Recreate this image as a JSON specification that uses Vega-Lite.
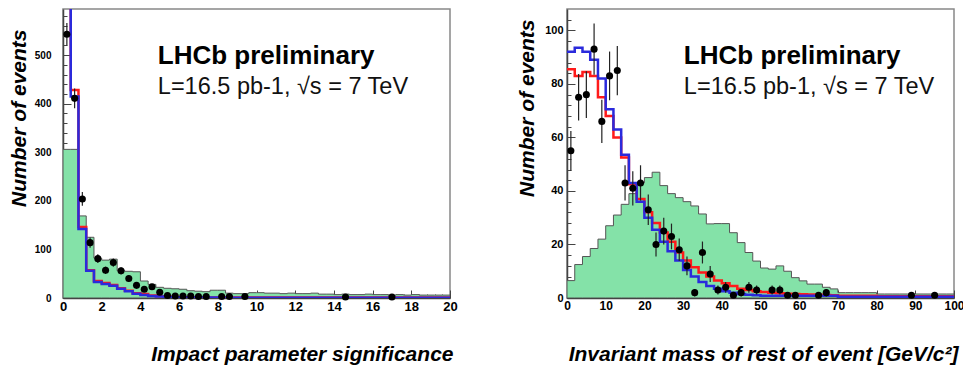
{
  "$schema": "https://vega.github.io/schema/vega-lite/v6.json",
  "padding": {"left": 7, "top": 8, "right": 5, "bottom": 5},
  "background": "white",
  "spacing": 117,
  "bounds": "flush",
  "config": {
    "view": {"stroke": "#888", "strokeWidth": 1.5},
    "font": "Liberation Sans",
    "axis": {
      "grid": false,
      "labelFont": "Liberation Sans",
      "labelFontWeight": "bold",
      "labelColor": "#000",
      "domainColor": "#444",
      "domainWidth": 1.5,
      "tickColor": "#444",
      "tickWidth": 1,
      "titleFont": "Liberation Sans",
      "titleFontWeight": "bold",
      "titleFontStyle": "italic",
      "titleFontSize": 21,
      "titleColor": "#000",
      "labelOverlap": false,
      "labelFlush": false
    }
  },
  "datasets": {
    "ip_hist": [
      {"lo": 0.0, "g": 306, "r": 800, "b": 800},
      {"lo": 0.4, "g": 306, "r": 428, "b": 415},
      {"lo": 0.8, "g": 169, "r": 146, "b": 142},
      {"lo": 1.2, "g": 125, "r": 57, "b": 56},
      {"lo": 1.6, "g": 82, "r": 35, "b": 33},
      {"lo": 2.0, "g": 78, "r": 31, "b": 29},
      {"lo": 2.4, "g": 80, "r": 27, "b": 25},
      {"lo": 2.8, "g": 56, "r": 20, "b": 19},
      {"lo": 3.2, "g": 55, "r": 15, "b": 14},
      {"lo": 3.6, "g": 54, "r": 10, "b": 9},
      {"lo": 4.0, "g": 35, "r": 8, "b": 6},
      {"lo": 4.4, "g": 28, "r": 5, "b": 4},
      {"lo": 4.8, "g": 22, "r": 3.5, "b": 3},
      {"lo": 5.2, "g": 20, "r": 2.5, "b": 2},
      {"lo": 5.6, "g": 19, "r": 2, "b": 1.5},
      {"lo": 6.0, "g": 18, "r": 1.5, "b": 1},
      {"lo": 6.4, "g": 15, "r": 1.2, "b": 1},
      {"lo": 6.8, "g": 14, "r": 1, "b": 0.8},
      {"lo": 7.2, "g": 13, "r": 1, "b": 0.8},
      {"lo": 7.6, "g": 16, "r": 1, "b": 0.8},
      {"lo": 8.0, "g": 16, "r": 0.8, "b": 0.7},
      {"lo": 8.4, "g": 10, "r": 0.8, "b": 0.7},
      {"lo": 8.8, "g": 9, "r": 0.8, "b": 0.7},
      {"lo": 9.2, "g": 9, "r": 0.8, "b": 0.7},
      {"lo": 9.6, "g": 11, "r": 0.8, "b": 0.7},
      {"lo": 10.0, "g": 11, "r": 0.8, "b": 0.7},
      {"lo": 10.4, "g": 10, "r": 0.8, "b": 0.7},
      {"lo": 10.8, "g": 10, "r": 0.8, "b": 0.7},
      {"lo": 11.2, "g": 9, "r": 0.8, "b": 0.7},
      {"lo": 11.6, "g": 10, "r": 0.8, "b": 0.7},
      {"lo": 12.0, "g": 9, "r": 0.8, "b": 0.7},
      {"lo": 12.4, "g": 9, "r": 0.8, "b": 0.7},
      {"lo": 12.8, "g": 10, "r": 0.8, "b": 0.7},
      {"lo": 13.2, "g": 8, "r": 0.8, "b": 0.7},
      {"lo": 13.6, "g": 8, "r": 0.8, "b": 0.7},
      {"lo": 14.0, "g": 7, "r": 0.8, "b": 0.7},
      {"lo": 14.4, "g": 8, "r": 0.8, "b": 0.7},
      {"lo": 14.8, "g": 7, "r": 0.8, "b": 0.7},
      {"lo": 15.2, "g": 7, "r": 0.8, "b": 0.7},
      {"lo": 15.6, "g": 8, "r": 0.8, "b": 0.7},
      {"lo": 16.0, "g": 7, "r": 0.8, "b": 0.7},
      {"lo": 16.4, "g": 7, "r": 0.8, "b": 0.7},
      {"lo": 16.8, "g": 6, "r": 0.8, "b": 0.7},
      {"lo": 17.2, "g": 7, "r": 0.8, "b": 0.7},
      {"lo": 17.6, "g": 6, "r": 0.8, "b": 0.7},
      {"lo": 18.0, "g": 7, "r": 0.8, "b": 0.7},
      {"lo": 18.4, "g": 6, "r": 0.8, "b": 0.7},
      {"lo": 18.8, "g": 6, "r": 0.8, "b": 0.7},
      {"lo": 19.2, "g": 6, "r": 0.8, "b": 0.7},
      {"lo": 19.6, "g": 6, "r": 0.8, "b": 0.7},
      {"lo": 20.0, "g": 6, "r": 0.8, "b": 0.7}
    ],
    "ip_pts": [
      {"x": 0.2, "n": 543, "lo": 519.7, "hi": 566.3},
      {"x": 0.6, "n": 411, "lo": 390.7, "hi": 431.3},
      {"x": 1.0, "n": 204, "lo": 189.7, "hi": 218.3},
      {"x": 1.4, "n": 114, "lo": 103.3, "hi": 124.7},
      {"x": 1.8, "n": 81, "lo": 72, "hi": 90},
      {"x": 2.2, "n": 57, "lo": 49.5, "hi": 64.5},
      {"x": 2.6, "n": 73, "lo": 64.5, "hi": 81.5},
      {"x": 3.0, "n": 56, "lo": 48.5, "hi": 63.5},
      {"x": 3.4, "n": 40, "lo": 33.7, "hi": 46.3},
      {"x": 3.8, "n": 26, "lo": 20.9, "hi": 31.1},
      {"x": 4.2, "n": 18, "lo": 13.8, "hi": 22.2},
      {"x": 4.6, "n": 23, "lo": 18.2, "hi": 27.8},
      {"x": 5.0, "n": 12, "lo": 8.5, "hi": 15.5},
      {"x": 5.4, "n": 5, "lo": 2.8, "hi": 7.2},
      {"x": 5.8, "n": 4, "lo": 2, "hi": 6},
      {"x": 6.2, "n": 4, "lo": 2, "hi": 6},
      {"x": 6.6, "n": 4, "lo": 2, "hi": 6},
      {"x": 7.0, "n": 3, "lo": 1.3, "hi": 4.7},
      {"x": 7.4, "n": 3, "lo": 1.3, "hi": 4.7},
      {"x": 8.2, "n": 3, "lo": 1.3, "hi": 4.7},
      {"x": 8.6, "n": 3, "lo": 1.3, "hi": 4.7},
      {"x": 9.4, "n": 3, "lo": 1.3, "hi": 4.7},
      {"x": 14.6, "n": 2, "lo": 0.6, "hi": 3.4},
      {"x": 17.0, "n": 2, "lo": 0.6, "hi": 3.4}
    ],
    "m_hist": [
      {"lo": 0, "g": 6.5, "r": 85.5, "b": 92},
      {"lo": 2, "g": 12.5, "r": 83, "b": 93.5},
      {"lo": 4, "g": 15.5, "r": 84.5, "b": 92},
      {"lo": 6, "g": 18.5, "r": 83, "b": 89},
      {"lo": 8, "g": 22, "r": 75, "b": 82},
      {"lo": 10, "g": 27, "r": 68, "b": 70.5},
      {"lo": 12, "g": 31, "r": 60, "b": 63},
      {"lo": 14, "g": 35, "r": 52.5, "b": 53.5},
      {"lo": 16, "g": 39, "r": 42.5, "b": 43},
      {"lo": 18, "g": 43, "r": 37, "b": 36},
      {"lo": 20, "g": 45, "r": 32, "b": 30},
      {"lo": 22, "g": 47, "r": 28, "b": 25.5},
      {"lo": 24, "g": 42, "r": 24.5, "b": 21},
      {"lo": 26, "g": 39, "r": 21, "b": 17.5},
      {"lo": 28, "g": 37.5, "r": 17, "b": 14},
      {"lo": 30, "g": 36, "r": 14, "b": 10.5},
      {"lo": 32, "g": 34.4, "r": 11.5, "b": 8},
      {"lo": 34, "g": 31.4, "r": 9.5, "b": 6},
      {"lo": 36, "g": 27.7, "r": 8, "b": 4.5},
      {"lo": 38, "g": 27.8, "r": 6.5, "b": 3.5},
      {"lo": 40, "g": 27.8, "r": 5.5, "b": 2.5},
      {"lo": 42, "g": 24.4, "r": 4.5, "b": 2},
      {"lo": 44, "g": 20.7, "r": 3.5, "b": 1.5},
      {"lo": 46, "g": 17, "r": 3, "b": 1.2},
      {"lo": 48, "g": 13.8, "r": 2.5, "b": 1},
      {"lo": 50, "g": 11.2, "r": 2.2, "b": 0.8},
      {"lo": 52, "g": 10.8, "r": 2, "b": 0.8},
      {"lo": 54, "g": 12, "r": 1.8, "b": 0.8},
      {"lo": 56, "g": 10, "r": 1.6, "b": 0.8},
      {"lo": 58, "g": 7.6, "r": 1.5, "b": 0.8},
      {"lo": 60, "g": 6.4, "r": 1.4, "b": 0.8},
      {"lo": 62, "g": 5.2, "r": 1.3, "b": 0.8},
      {"lo": 64, "g": 5.2, "r": 1.2, "b": 0.8},
      {"lo": 66, "g": 4, "r": 1.1, "b": 0.8},
      {"lo": 68, "g": 3.4, "r": 1, "b": 0.8},
      {"lo": 70, "g": 2, "r": 0.8, "b": 0.5},
      {"lo": 72, "g": 2, "r": 0.8, "b": 0.5},
      {"lo": 74, "g": 2, "r": 0.8, "b": 0.5},
      {"lo": 76, "g": 2, "r": 0.8, "b": 0.5},
      {"lo": 78, "g": 2, "r": 0.8, "b": 0.5},
      {"lo": 80, "g": 1.5, "r": 0.7, "b": 0.5},
      {"lo": 82, "g": 1.5, "r": 0.7, "b": 0.5},
      {"lo": 84, "g": 1.5, "r": 0.7, "b": 0.5},
      {"lo": 86, "g": 1.5, "r": 0.7, "b": 0.5},
      {"lo": 88, "g": 1.5, "r": 0.7, "b": 0.5},
      {"lo": 90, "g": 1.5, "r": 0.7, "b": 0.5},
      {"lo": 92, "g": 1.5, "r": 0.7, "b": 0.5},
      {"lo": 94, "g": 1.5, "r": 0.7, "b": 0.5},
      {"lo": 96, "g": 1.5, "r": 0.7, "b": 0.5},
      {"lo": 98, "g": 1.5, "r": 0.7, "b": 0.5},
      {"lo": 100, "g": 1.5, "r": 0.7, "b": 0.5}
    ],
    "m_pts": [
      {"x": 1, "n": 55, "lo": 47.6, "hi": 62.4},
      {"x": 3, "n": 75, "lo": 66.3, "hi": 83.7},
      {"x": 5, "n": 76, "lo": 67.3, "hi": 84.7},
      {"x": 7, "n": 93, "lo": 83.4, "hi": 102.6},
      {"x": 9, "n": 66, "lo": 57.9, "hi": 74.1},
      {"x": 11, "n": 83, "lo": 73.9, "hi": 92.1},
      {"x": 13, "n": 85, "lo": 75.8, "hi": 94.2},
      {"x": 15, "n": 43, "lo": 36.4, "hi": 49.6},
      {"x": 17, "n": 41, "lo": 34.6, "hi": 47.4},
      {"x": 19, "n": 43, "lo": 36.4, "hi": 49.6},
      {"x": 21, "n": 33, "lo": 27.3, "hi": 38.7},
      {"x": 23, "n": 20, "lo": 15.5, "hi": 24.5},
      {"x": 25, "n": 25, "lo": 20, "hi": 30},
      {"x": 27, "n": 23, "lo": 18.2, "hi": 27.8},
      {"x": 29, "n": 18, "lo": 13.8, "hi": 22.2},
      {"x": 31, "n": 12, "lo": 8.5, "hi": 15.5},
      {"x": 33, "n": 2, "lo": 0.6, "hi": 3.4},
      {"x": 35, "n": 17, "lo": 12.9, "hi": 21.1},
      {"x": 37, "n": 9, "lo": 6, "hi": 12},
      {"x": 39, "n": 3, "lo": 1.3, "hi": 4.7},
      {"x": 41, "n": 4, "lo": 2, "hi": 6},
      {"x": 43, "n": 1, "lo": 0, "hi": 2},
      {"x": 45, "n": 2, "lo": 0.6, "hi": 3.4},
      {"x": 47, "n": 4, "lo": 2, "hi": 6},
      {"x": 49, "n": 3, "lo": 1.3, "hi": 4.7},
      {"x": 53, "n": 3, "lo": 1.3, "hi": 4.7},
      {"x": 55, "n": 3, "lo": 1.3, "hi": 4.7},
      {"x": 57, "n": 1, "lo": 0, "hi": 2},
      {"x": 59, "n": 1, "lo": 0, "hi": 2},
      {"x": 65, "n": 1, "lo": 0, "hi": 2},
      {"x": 67, "n": 2, "lo": 0.6, "hi": 3.4},
      {"x": 89, "n": 1, "lo": 0, "hi": 2},
      {"x": 95, "n": 1, "lo": 0, "hi": 2}
    ],
    "one": [{}]
  },
  "hconcat": [
    {
      "width": 387,
      "height": 289,
      "resolve": {"axis": {"x": "independent", "y": "independent"}},
      "layer": [
        {
          "data": {"name": "ip_hist"},
          "mark": {"type": "area", "interpolate": "step-after", "fill": "#84E2A8", "stroke": "#555", "strokeWidth": 1, "clip": true},
          "encoding": {
            "x": {"field": "lo", "type": "quantitative", "scale": {"domain": [0, 20], "nice": false, "zero": false},
              "axis": {"values": [0, 2, 4, 6, 8, 10, 12, 14, 16, 18, 20], "format": "d", "labelFontSize": 13, "tickSize": -8, "labelPadding": 10,
                "title": "Impact parameter significance", "titleX": 390, "titleY": 56, "titleAlign": "right", "titleBaseline": "middle"}},
            "y": {"field": "g", "type": "quantitative", "scale": {"domain": [0, 595], "nice": false},
              "axis": {"values": [0, 100, 200, 300, 400, 500], "format": "d", "labelFontSize": 10, "tickSize": -8, "labelPadding": 20,
                "title": "Number of events", "titleX": -44, "titleY": 20, "titleAlign": "right", "titleBaseline": "middle", "titleAngle": -90}}
          }
        },
        {
          "data": {"name": "ip_hist"},
          "mark": {"type": "line", "interpolate": "step-after", "stroke": "#FF1A1A", "strokeWidth": 2.5, "clip": true},
          "encoding": {
            "x": {"field": "lo", "type": "quantitative",
              "axis": {"values": [0.4, 0.8, 1.2, 1.6, 2.4, 2.8, 3.2, 3.6, 4.4, 4.8, 5.2, 5.6, 6.4, 6.8, 7.2, 7.6, 8.4, 8.8, 9.2, 9.6, 10.4, 10.8, 11.2, 11.6, 12.4, 12.8, 13.2, 13.6, 14.4, 14.8, 15.2, 15.6, 16.4, 16.8, 17.2, 17.6, 18.4, 18.8, 19.2, 19.6],
                "orient": "bottom", "labels": false, "domain": false, "title": null, "tickSize": -4}},
            "y": {"field": "r", "type": "quantitative",
              "axis": {"values": [20, 40, 60, 80, 120, 140, 160, 180, 220, 240, 260, 280, 320, 340, 360, 380, 420, 440, 460, 480, 520, 540, 560, 580],
                "orient": "left", "labels": false, "domain": false, "title": null, "tickSize": -4}}
          }
        },
        {
          "data": {"name": "ip_hist"},
          "mark": {"type": "line", "interpolate": "step-after", "stroke": "#2A2ADC", "strokeWidth": 2.5, "clip": true},
          "encoding": {
            "x": {"field": "lo", "type": "quantitative", "axis": null},
            "y": {"field": "b", "type": "quantitative", "axis": null}
          }
        },
        {
          "data": {"name": "ip_pts"},
          "mark": {"type": "rule", "color": "#222", "strokeWidth": 1.2},
          "encoding": {
            "x": {"field": "x", "type": "quantitative", "axis": null},
            "y": {"field": "lo", "type": "quantitative", "axis": null},
            "y2": {"field": "hi"}
          }
        },
        {
          "data": {"name": "ip_pts"},
          "mark": {"type": "point", "filled": true, "color": "#000", "size": 50, "opacity": 1},
          "encoding": {
            "x": {"field": "x", "type": "quantitative", "axis": null},
            "y": {"field": "n", "type": "quantitative", "axis": null}
          }
        },
        {
          "data": {"name": "one"},
          "mark": {"type": "text", "text": "LHCb preliminary", "font": "Liberation Sans", "fontWeight": "bold", "fontSize": 26, "align": "left", "baseline": "alphabetic", "color": "#000"},
          "encoding": {
            "x": {"datum": 4.9, "type": "quantitative", "axis": null},
            "y": {"datum": 481, "type": "quantitative", "axis": null}
          }
        },
        {
          "data": {"name": "one"},
          "mark": {"type": "text", "text": "L=16.5 pb-1, √s = 7 TeV", "font": "Liberation Sans", "fontSize": 23.5, "align": "left", "baseline": "alphabetic", "color": "#111"},
          "encoding": {
            "x": {"datum": 4.9, "type": "quantitative", "axis": null},
            "y": {"datum": 420, "type": "quantitative", "axis": null}
          }
        }
      ]
    },
    {
      "width": 387,
      "height": 289,
      "resolve": {"axis": {"x": "independent", "y": "independent"}},
      "layer": [
        {
          "data": {"name": "m_hist"},
          "mark": {"type": "area", "interpolate": "step-after", "fill": "#84E2A8", "stroke": "#555", "strokeWidth": 1, "clip": true},
          "encoding": {
            "x": {"field": "lo", "type": "quantitative", "scale": {"domain": [0, 100], "nice": false, "zero": false},
              "axis": {"values": [0, 10, 20, 30, 40, 50, 60, 70, 80, 90, 100], "format": "d", "labelFontSize": 12, "tickSize": -8, "labelPadding": 10,
                "title": "Invariant mass of rest of event [GeV/c²]", "titleX": 391, "titleY": 56, "titleAlign": "right", "titleBaseline": "middle"}},
            "y": {"field": "g", "type": "quantitative", "scale": {"domain": [0, 108], "nice": false},
              "axis": {"values": [0, 20, 40, 60, 80, 100], "format": "d", "labelFontSize": 11, "tickSize": -8, "labelPadding": 12,
                "title": "Number of events", "titleX": -40, "titleY": 10, "titleAlign": "right", "titleBaseline": "middle", "titleAngle": -90}}
          }
        },
        {
          "data": {"name": "m_hist"},
          "mark": {"type": "line", "interpolate": "step-after", "stroke": "#FF1A1A", "strokeWidth": 2.5, "clip": true},
          "encoding": {
            "x": {"field": "lo", "type": "quantitative",
              "axis": {"values": [2, 4, 6, 8, 12, 14, 16, 18, 22, 24, 26, 28, 32, 34, 36, 38, 42, 44, 46, 48, 52, 54, 56, 58, 62, 64, 66, 68, 72, 74, 76, 78, 82, 84, 86, 88, 92, 94, 96, 98],
                "orient": "bottom", "labels": false, "domain": false, "title": null, "tickSize": -4}},
            "y": {"field": "r", "type": "quantitative",
              "axis": {"values": [4, 8, 12, 16, 24, 28, 32, 36, 44, 48, 52, 56, 64, 68, 72, 76, 84, 88, 92, 96, 104],
                "orient": "left", "labels": false, "domain": false, "title": null, "tickSize": -4}}
          }
        },
        {
          "data": {"name": "m_hist"},
          "mark": {"type": "line", "interpolate": "step-after", "stroke": "#2A2ADC", "strokeWidth": 2.5, "clip": true},
          "encoding": {
            "x": {"field": "lo", "type": "quantitative", "axis": null},
            "y": {"field": "b", "type": "quantitative", "axis": null}
          }
        },
        {
          "data": {"name": "m_pts"},
          "mark": {"type": "rule", "color": "#222", "strokeWidth": 1.2},
          "encoding": {
            "x": {"field": "x", "type": "quantitative", "axis": null},
            "y": {"field": "lo", "type": "quantitative", "axis": null},
            "y2": {"field": "hi"}
          }
        },
        {
          "data": {"name": "m_pts"},
          "mark": {"type": "point", "filled": true, "color": "#000", "size": 50, "opacity": 1},
          "encoding": {
            "x": {"field": "x", "type": "quantitative", "axis": null},
            "y": {"field": "n", "type": "quantitative", "axis": null}
          }
        },
        {
          "data": {"name": "one"},
          "mark": {"type": "text", "text": "LHCb preliminary", "font": "Liberation Sans", "fontWeight": "bold", "fontSize": 26, "align": "left", "baseline": "alphabetic", "color": "#000"},
          "encoding": {
            "x": {"datum": 30.2, "type": "quantitative", "axis": null},
            "y": {"datum": 87.5, "type": "quantitative", "axis": null}
          }
        },
        {
          "data": {"name": "one"},
          "mark": {"type": "text", "text": "L=16.5 pb-1, √s = 7 TeV", "font": "Liberation Sans", "fontSize": 23.5, "align": "left", "baseline": "alphabetic", "color": "#111"},
          "encoding": {
            "x": {"datum": 30.2, "type": "quantitative", "axis": null},
            "y": {"datum": 76.3, "type": "quantitative", "axis": null}
          }
        }
      ]
    }
  ]
}
